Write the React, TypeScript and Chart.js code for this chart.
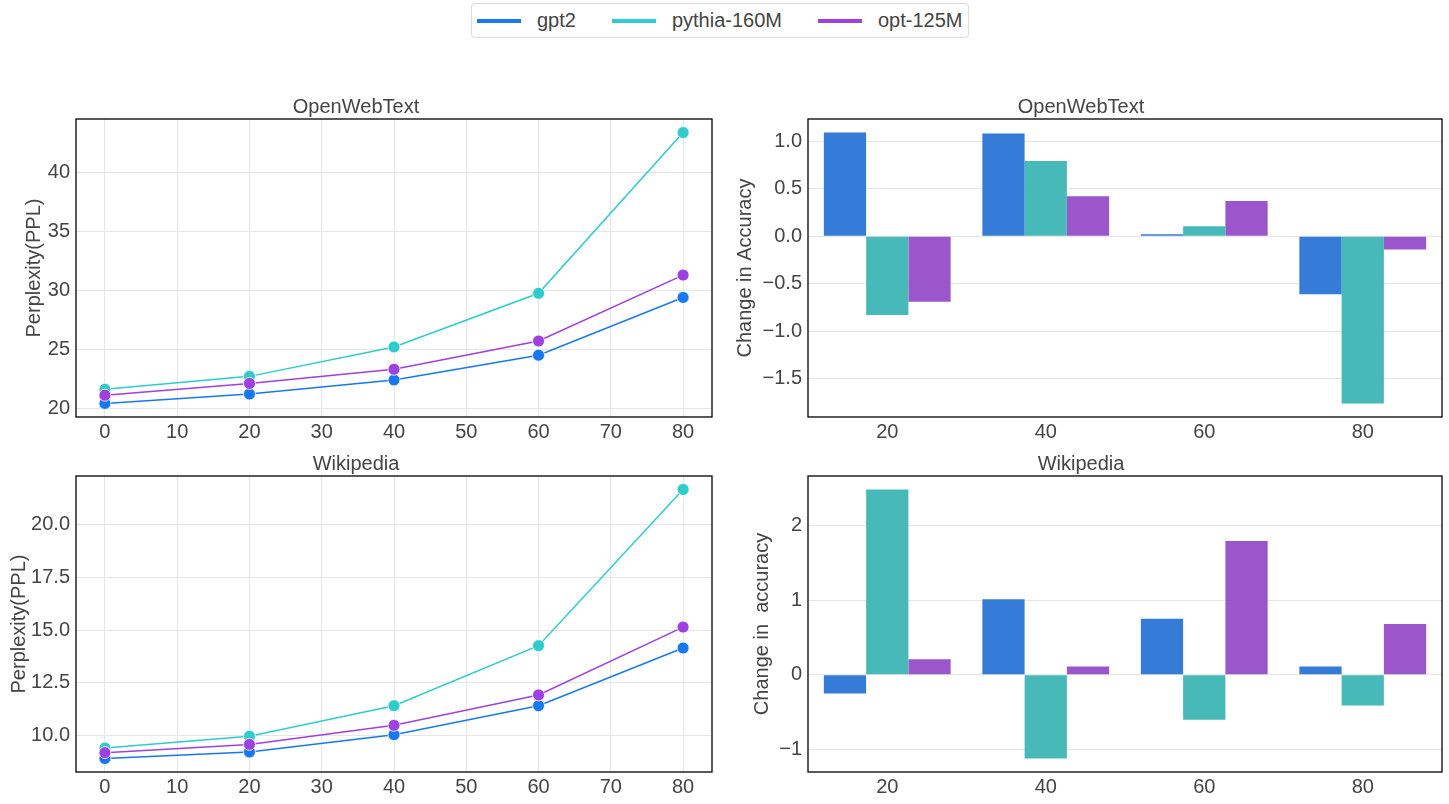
import React, { useEffect, useRef } from 'react';
import { Chart, registerables } from 'chart.js';

Chart.register(...registerables);

const FONT = '"Liberation Sans", Arial, sans-serif';
const TEXT = '#444444';
const GRID = '#e6e6e6';

const seriesNames = ['gpt2', 'pythia-160M', 'opt-125M'];
const lineColors = ['#1877f2', '#2ecccc', '#9f40e2'];
const barColors = ['#357bd8', '#47b9b9', '#9a56ca'];

// sparsity levels (line plots)
const pruneLevels = [0, 20, 40, 60, 80];
const owtPplGpt2 = [20.4, 21.2, 22.4, 24.5, 29.4];
const owtPplPythia = [21.6, 22.7, 25.2, 29.75, 43.4];
const owtPplOpt = [21.1, 22.1, 23.3, 25.7, 31.3];
const wikiPplGpt2 = [8.92, 9.23, 10.05, 11.42, 14.15];
const wikiPplPythia = [9.42, 9.98, 11.42, 14.26, 21.65];
const wikiPplOpt = [9.2, 9.59, 10.49, 11.93, 15.14];

// bar plots
const barCategories = ['20', '40', '60', '80'];
const owtAccGpt2 = [1.09, 1.08, 0.02, -0.61];
const owtAccPythia = [-0.83, 0.79, 0.105, -1.76];
const owtAccOpt = [-0.69, 0.42, 0.37, -0.14];
const wikiAccGpt2 = [-0.25, 1.01, 0.75, 0.11];
const wikiAccPythia = [2.48, -1.12, -0.6, -0.41];
const wikiAccOpt = [0.21, 0.11, 1.79, 0.68];

// tick labels
const lineXTicks = [0, 10, 20, 30, 40, 50, 60, 70, 80];
const owtPplTicks = [20, 25, 30, 35, 40];
const wikiPplTicks = [10, 12.5, 15, 17.5, 20];
const owtAccTicks = [-1.5, -1, -0.5, 0, 0.5, 1];
const wikiAccTicks = [-1, 0, 1, 2];

const withMinus = (s: string) => s.replace('-', '\u2212');
const fmtInt = (v: number) => withMinus(String(Math.round(v)));
const fmt1 = (v: number) => withMinus(v.toFixed(1));

// matplotlib-style 5% margins
const padded = (vals: number[]) => {
    const lo = Math.min(...vals);
    const hi = Math.max(...vals);
    const m = (hi - lo) * 0.05;
    return [lo - m, hi + m];
};

const framePlugin = {
    id: 'frame',
    afterDraw(chart: any) {
        const { ctx, chartArea: a } = chart;
        ctx.save();
        ctx.strokeStyle = '#000';
        ctx.lineWidth = 1.3;
        ctx.strokeRect(a.left, a.top, a.right - a.left, a.bottom - a.top);
        ctx.restore();
    },
};

type PanelProps = {
    kind: 'line' | 'bar';
    title: string;
    yLabel: string;
    series: number[][];
    yTicks: number[];
    yFmt: (v: number) => string;
    left: number;
    top: number;
    width: number;
    height: number;
    yAxisWidth: number;
    xAxisHeight: number;
    padRight: number;
    yTitlePad: number;
};

const Panel: React.FC<PanelProps> = (p) => {
    const canvasRef = useRef<HTMLCanvasElement | null>(null);

    useEffect(() => {
        const canvas = canvasRef.current;
        if (!canvas) return;
        const existing = Chart.getChart(canvas);
        if (existing) existing.destroy();

        const isLine = p.kind === 'line';
        const yVals = isLine ? p.series.flat() : [0, ...p.series.flat()];
        const [yMin, yMax] = padded(yVals);
        const [xMin, xMax] = padded(pruneLevels);

        const datasets = p.series.map((vals, i) =>
            isLine
                ? {
                      label: seriesNames[i],
                      data: pruneLevels.map((x, j) => ({ x, y: vals[j] })),
                      borderColor: lineColors[i],
                      backgroundColor: lineColors[i],
                      borderWidth: 1.5,
                      pointRadius: 6,
                      pointBorderColor: '#fff',
                      pointBorderWidth: 0.8,
                      tension: 0,
                      order: seriesNames.length - i,
                  }
                : {
                      label: seriesNames[i],
                      data: vals,
                      backgroundColor: barColors[i],
                      borderWidth: 0,
                      categoryPercentage: 0.8,
                      barPercentage: 1.0,
                  }
        );

        const tickFont = { family: FONT, size: 20 };

        const xScale: any = isLine
            ? {
                  type: 'linear',
                  min: xMin,
                  max: xMax,
                  afterBuildTicks: (s: any) => {
                      s.ticks = lineXTicks.map((v) => ({ value: v }));
                  },
                  ticks: { font: tickFont, color: TEXT, padding: 3, maxRotation: 0, callback: (v: any) => fmtInt(Number(v)) },
                  grid: { color: GRID, lineWidth: 1, drawTicks: false },
                  border: { display: false },
                  afterFit: (s: any) => {
                      s.height = p.xAxisHeight;
                  },
              }
            : {
                  type: 'category',
                  labels: barCategories,
                  offset: true,
                  ticks: { font: tickFont, color: TEXT, padding: 3, maxRotation: 0 },
                  grid: { display: false, drawTicks: false },
                  border: { display: false },
                  afterFit: (s: any) => {
                      s.height = p.xAxisHeight;
                  },
              };

        const chart = new Chart(canvas, {
            type: isLine ? 'line' : 'bar',
            data: isLine ? { datasets } : { labels: barCategories, datasets },
            options: {
                responsive: true,
                maintainAspectRatio: false,
                animation: false,
                layout: { padding: { left: 0, right: p.padRight, top: 0, bottom: 0 } },
                plugins: {
                    legend: { display: false },
                    tooltip: { enabled: false },
                    title: {
                        display: true,
                        text: p.title,
                        color: TEXT,
                        font: { family: FONT, size: 20, weight: 'normal' },
                        padding: { top: 15, bottom: 0 },
                    },
                },
                scales: {
                    x: xScale,
                    y: {
                        type: 'linear',
                        min: yMin,
                        max: yMax,
                        afterBuildTicks: (s: any) => {
                            s.ticks = p.yTicks.map((v) => ({ value: v }));
                        },
                        ticks: { font: tickFont, color: TEXT, padding: 6, callback: (v: any) => p.yFmt(Number(v)) },
                        grid: { color: GRID, lineWidth: 1, drawTicks: false },
                        border: { display: false },
                        title: {
                            display: true,
                            text: p.yLabel,
                            color: TEXT,
                            font: { family: FONT, size: 20 },
                            padding: { top: p.yTitlePad, bottom: 0 },
                        },
                        afterFit: (s: any) => {
                            s.width = p.yAxisWidth;
                        },
                    },
                },
            } as any,
            plugins: [framePlugin],
        });

        return () => {
            chart.destroy();
        };
    }, [p]);

    return (
        <div style={{ position: 'absolute', left: p.left, top: p.top, width: p.width, height: p.height }}>
            <canvas ref={canvasRef} />
        </div>
    );
};

const Legend: React.FC = () => (
    <div
        style={{
            position: 'absolute',
            left: 471,
            top: 3,
            width: 498,
            height: 35,
            border: '1px solid #dcdcdc',
            borderRadius: 4,
            display: 'flex',
            alignItems: 'center',
            paddingLeft: 5,
            boxSizing: 'border-box',
            fontFamily: FONT,
            fontSize: 20,
            color: TEXT,
            whiteSpace: 'nowrap',
        }}
    >
        {seriesNames.map((name, i) => (
            <div key={name} style={{ display: 'flex', alignItems: 'center', flexShrink: 0, marginRight: 36 }}>
                <span style={{ display: 'inline-block', width: 44, height: 4, background: lineColors[i], marginRight: 16 }} />
                <span>{name}</span>
            </div>
        ))}
    </div>
);

const panels: PanelProps[] = [
    {
        kind: 'line', title: 'OpenWebText', yLabel: 'Perplexity(PPL)',
        series: [owtPplGpt2, owtPplPythia, owtPplOpt], yTicks: owtPplTicks, yFmt: fmtInt,
        left: 0, top: 80, width: 720, height: 380, yAxisWidth: 76, xAxisHeight: 43, padRight: 8, yTitlePad: 22,
    },
    {
        kind: 'bar', title: 'OpenWebText', yLabel: 'Change in Accuracy',
        series: [owtAccGpt2, owtAccPythia, owtAccOpt], yTicks: owtAccTicks, yFmt: fmt1,
        left: 720, top: 80, width: 729, height: 380, yAxisWidth: 88, xAxisHeight: 43, padRight: 7, yTitlePad: 13,
    },
    {
        kind: 'line', title: 'Wikipedia', yLabel: 'Perplexity(PPL)',
        series: [wikiPplGpt2, wikiPplPythia, wikiPplOpt], yTicks: wikiPplTicks, yFmt: fmt1,
        left: 0, top: 437, width: 720, height: 367, yAxisWidth: 76, xAxisHeight: 32, padRight: 8, yTitlePad: 7,
    },
    {
        kind: 'bar', title: 'Wikipedia', yLabel: 'Change in  accuracy',
        series: [wikiAccGpt2, wikiAccPythia, wikiAccOpt], yTicks: wikiAccTicks, yFmt: fmtInt,
        left: 720, top: 437, width: 729, height: 367, yAxisWidth: 88, xAxisHeight: 32, padRight: 7, yTitlePad: 30,
    },
];

const App: React.FC = () => (
    <div style={{ position: 'absolute', left: 0, top: 0, width: 1449, height: 804, background: '#fff', overflow: 'hidden' }}>
        <Legend />
        {panels.map((p, i) => (
            <Panel key={i} {...p} />
        ))}
    </div>
);

export default App;
